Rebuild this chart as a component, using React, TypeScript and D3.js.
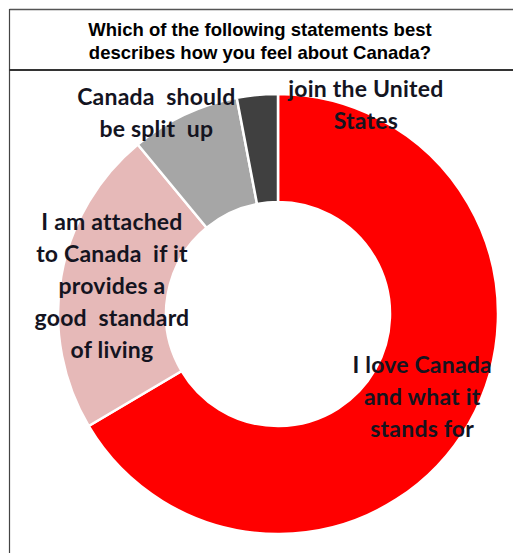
import React from "react";
import * as d3 from "d3";

const categories = [
  "I love Canada and what it stands for",
  "I am attached to Canada if it provides a good standard of living",
  "Canada should be split up",
  "join the United States",
];
const values = [66.5, 22.5, 8, 3];
const labelLines = [
  ["I love Canada", "and what it", "stands for"],
  ["I am attached", "to Canada  if it", "provides a", "good  standard", "of living"],
  ["Canada  should", "be split  up"],
  ["join the United", "States"],
];
const colors = ["#FF0000", "#E6B9B8", "#A6A6A6", "#404040"];
const titleLines = [
  "Which of the following statements best",
  "describes how you feel about Canada?",
];

// label layout (offset from arc centroid), px
const labelOffsets = [
  [0, 2],
  [-2.5, 1.5],
  [-51, -50],
  [103.5, -43],
];

const W = 513;
const H = 553;
const cx = 278;
const cy = 314;
const outerR = 220;
const innerR = 112;
const lineH = 32;

export default function App() {
  const pie = d3
    .pie<number>()
    .sort(null)
    .value((d) => d)
    .startAngle(0)
    .endAngle(2 * Math.PI);
  const arcs = pie(values);
  const arc = d3.arc<d3.PieArcDatum<number>>().innerRadius(innerR).outerRadius(outerR);

  return (
    <svg
      width={W}
      height={H}
      style={{ position: "absolute", left: 0, top: 0, background: "#fff" }}
    >
      {/* chart frame */}
      <line x1={9.5} y1={9.5} x2={W} y2={9.5} stroke="#555" strokeWidth={1.5} />
      <line x1={9.5} y1={9} x2={9.5} y2={H} stroke="#444" strokeWidth={1.2} />
      <line x1={9} y1={70} x2={W} y2={70} stroke="#333" strokeWidth={1.8} />
      {titleLines.map((t, i) => (
        <text
          key={i}
          x={260}
          y={36 + i * 23}
          textAnchor="middle"
          fontFamily="Liberation Sans, Arial, sans-serif"
          fontWeight="bold"
          fontSize={18.5}
          fill="#000"
        >
          {t}
        </text>
      ))}
      <g transform={`translate(${cx},${cy})`}>
        {arcs.map((a, i) => (
          <path
            key={categories[i]}
            d={arc(a) || ""}
            fill={colors[i]}
            stroke="#fff"
            strokeWidth={2.5}
          />
        ))}
        {arcs.map((a, i) => {
          const [x, y] = arc.centroid(a);
          const lx = x + labelOffsets[i][0];
          const ly = y + labelOffsets[i][1];
          const lines = labelLines[i];
          const top = ly - ((lines.length - 1) * lineH) / 2;
          return (
            <text
              key={"l" + i}
              textAnchor="middle"
              fontFamily="Lato, 'Open Sans', sans-serif"
              fontWeight="bold"
              fontSize={23}
              letterSpacing={0.2}
              fill="#14141f"
            >
              {lines.map((ln, j) => (
                <tspan key={j} x={lx} y={top + j * lineH + 7} style={{ whiteSpace: "pre" }}>
                  {ln}
                </tspan>
              ))}
            </text>
          );
        })}
      </g>
    </svg>
  );
}
